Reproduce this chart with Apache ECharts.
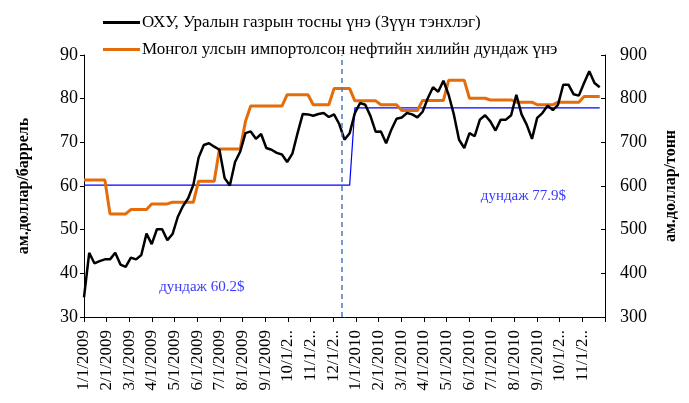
<!DOCTYPE html>
<html>
<head>
<meta charset="utf-8">
<script src="https://cdn.jsdelivr.net/npm/echarts@6/dist/echarts.min.js"></script>
<style>
  html, body { margin: 0; padding: 0; background: #fff; }
  #chart { width: 689px; height: 403px; }
</style>
</head>
<body>
<div id="chart"></div>
<script>
// month tick labels (one per month, starting 1/1/2009)
const monthLabels = [
    '1/1/2009', '2/1/2009', '3/1/2009', '4/1/2009', '5/1/2009', '6/1/2009',
    '7/1/2009', '8/1/2009', '9/1/2009', '10/1/2..', '11/1/2..', '12/1/2..',
    '1/1/2010', '2/1/2010', '3/1/2010', '4/1/2010', '5/1/2010', '6/1/2010',
    '7/1/2010', '8/1/2010', '9/1/2010', '10/1/2..', '11/1/2..'
];

// Urals crude, USD/barrel, weekly from 1/1/2009
const uralsWeekly = [
    34.5, 44.7, 42.3, 42.8, 43.2, 43.2, 44.7, 42.0, 41.5, 43.6,
    43.2, 44.2, 49.1, 46.7, 50.1, 50.1, 47.6, 49.0, 52.9, 55.4,
    57.2, 60.3, 66.5, 69.4, 69.8, 69.0, 68.3, 61.8, 60.1, 65.5,
    67.9, 72.1, 72.5, 70.8, 71.9, 68.7, 68.3, 67.6, 67.2, 65.5,
    67.4, 72.1, 76.5, 76.4, 76.1, 76.5, 76.7, 75.8, 76.4, 74.2,
    70.6, 72.1, 76.7, 79.0, 78.6, 76.0, 72.4, 72.5, 69.8, 72.9,
    75.4, 75.7, 76.7, 76.4, 75.7, 77.0, 80.1, 82.6, 81.6, 84.1,
    80.9, 76.4, 70.6, 68.7, 72.1, 71.4, 75.2, 76.2, 74.8, 72.7,
    75.2, 75.2, 76.2, 80.9, 76.4, 74.0, 70.8, 75.6, 76.7, 78.4,
    77.4, 78.6, 83.2, 83.2, 81.0, 80.7, 83.6, 86.3, 83.6, 82.6
];

// Mongolia imported fuel average border price, USD/tonne, same weeks
const importWeekly = [
    614, 614, 614, 614, 614, 536, 536, 536, 536, 546,
    546, 546, 546, 559, 559, 559, 559, 563, 563, 563,
    563, 563, 611, 611, 611, 611, 685, 685, 685, 685,
    685, 748, 783, 783, 783, 783, 783, 783, 783, 809,
    809, 809, 809, 809, 786, 786, 786, 786, 823, 823,
    823, 823, 795, 795, 795, 795, 795, 786, 786, 786,
    786, 773, 773, 773, 773, 796, 796, 796, 796, 796,
    842, 842, 842, 842, 801, 801, 801, 801, 797, 797,
    797, 797, 797, 792, 792, 792, 792, 786, 786, 786,
    786, 792, 792, 792, 792, 792, 805, 805, 805, 805
];

// yearly averages of Urals price
const yearAvg = [60.2, 77.9];
const weeksIn2009 = 52;
const splitMonth = 11.4;   // dashed divider (mid-Dec 2009)

const WEEK = 7 / 30.44;     // one week in month units

const FONT = 'Liberation Serif';

const uralsData = uralsWeekly.map((v, i) => [i * WEEK, v]);
const importData = importWeekly.map((v, i) => [i * WEEK, v]);
const lastX = (uralsWeekly.length - 1) * WEEK;
const avgData = [
    [0, yearAvg[0]],
    [(weeksIn2009 - 1) * WEEK, yearAvg[0]],
    [weeksIn2009 * WEEK, yearAvg[1]],
    [lastX, yearAvg[1]]
];

const chart = echarts.init(document.getElementById('chart'), null, { renderer: 'canvas' });

chart.setOption({
    animation: false,
    backgroundColor: '#fff',
    textStyle: { fontFamily: FONT },
    legend: {
        orient: 'vertical',
        left: 98,
        top: 9,
        icon: 'rect',
        itemWidth: 37,
        itemHeight: 3,
        itemGap: 10,
        textStyle: { fontFamily: FONT, fontSize: 17, color: '#000', lineHeight: 16, padding: [0, 0, 0, -3] },
        data: [
            'ОХУ, Уралын газрын тосны үнэ (Зүүн тэнхлэг)',
            'Монгол улсын импортолсон нефтийн хилийн дундаж үнэ'
        ]
    },
    grid: { left: 84, right: 84, top: 55, bottom: 86 },
    xAxis: {
        type: 'value',
        min: 0,
        max: 23,
        interval: 1,
        axisLine: { lineStyle: { color: '#000', width: 1 } },
        axisTick: { show: true, length: 5, lineStyle: { color: '#000' } },
        splitLine: { show: false },
        axisLabel: {
            rotate: 90,
            margin: 13,
            color: '#000',
            fontFamily: FONT,
            fontSize: 17,
            formatter: v => monthLabels[v] || ''
        }
    },
    yAxis: [
        {
            type: 'value',
            min: 30,
            max: 90,
            interval: 10,
            name: 'ам.доллар/баррель',
            nameLocation: 'middle',
            nameGap: 52,
            nameRotate: 90,
            nameTextStyle: { fontFamily: FONT, fontSize: 16, fontWeight: 'bold', color: '#000' },
            axisLine: { show: true, lineStyle: { color: '#000' } },
            axisTick: { show: true, length: 4, lineStyle: { color: '#000' } },
            splitLine: { show: false },
            axisLabel: { color: '#000', fontFamily: FONT, fontSize: 18, margin: 6 }
        },
        {
            type: 'value',
            min: 300,
            max: 900,
            interval: 100,
            position: 'right',
            name: 'ам.доллар/тонн',
            nameLocation: 'middle',
            nameGap: 58,
            nameRotate: 90,
            nameTextStyle: { fontFamily: FONT, fontSize: 16, fontWeight: 'bold', color: '#000' },
            axisLine: { show: true, lineStyle: { color: '#000' } },
            axisTick: { show: true, inside: true, length: 4, lineStyle: { color: '#000' } },
            splitLine: { show: false },
            axisLabel: { color: '#000', fontFamily: FONT, fontSize: 18, margin: 15 }
        }
    ],
    series: [
        {
            name: 'ОХУ, Уралын газрын тосны үнэ (Зүүн тэнхлэг)',
            type: 'line',
            yAxisIndex: 0,
            data: uralsData,
            symbol: 'none',
            lineStyle: { color: '#000', width: 2.5 },
            itemStyle: { color: '#000' },
            z: 4,
            markLine: {
                silent: true,
                symbol: 'none',
                label: { show: false },
                lineStyle: { color: '#4a7ebb', type: [5, 4], width: 1.5 },
                data: [{ xAxis: splitMonth }]
            }
        },
        {
            name: 'Монгол улсын импортолсон нефтийн хилийн дундаж үнэ',
            type: 'line',
            yAxisIndex: 1,
            data: importData,
            symbol: 'none',
            lineStyle: { color: '#e46c0a', width: 3 },
            itemStyle: { color: '#e46c0a' },
            z: 3
        },
        {
            name: 'average',
            type: 'line',
            yAxisIndex: 0,
            data: avgData,
            symbol: 'none',
            lineStyle: { color: '#0000ff', width: 1.2 },
            z: 2,
            markPoint: {
                symbol: 'circle',
                symbolSize: 0,
                label: {
                    show: true,
                    position: 'inside',
                    formatter: p => p.name,
                    color: '#3a3aff',
                    fontFamily: FONT,
                    fontSize: 15
                },
                data: [
                    { name: 'дундаж ' + yearAvg[0] + '$', coord: [5.2, 36.8] },
                    { name: 'дундаж ' + yearAvg[1] + '$', coord: [19.4, 57.6] }
                ]
            }
        }
    ]
});
</script>
</body>
</html>
